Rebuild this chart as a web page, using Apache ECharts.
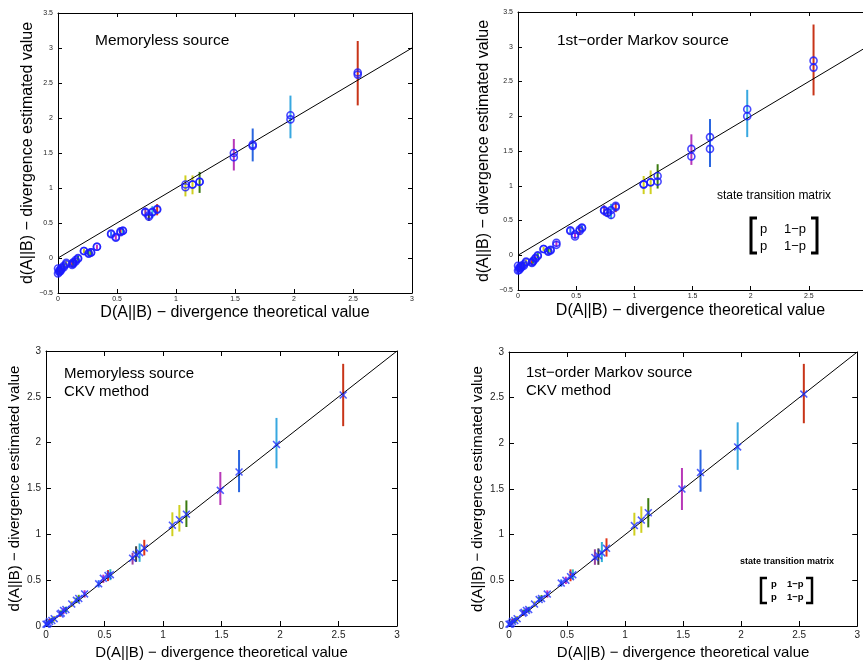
<!DOCTYPE html>
<html>
<head>
<meta charset="utf-8">
<script src="https://cdn.jsdelivr.net/npm/echarts@6/dist/echarts.min.js"></script>
<style>
  html, body { margin: 0; padding: 0; background: #fff; }
  #chart { width: 863px; height: 661px; }
</style>
</head>
<body>
<div id="chart"></div>
<script>
// theoretical divergence values (x axis, shared by all panels)
const theory = [0.00, 0.01, 0.02, 0.03, 0.05, 0.07, 0.12, 0.13, 0.15, 0.17, 0.22, 0.26, 0.28, 0.33, 0.45, 0.49, 0.53, 0.55, 0.74, 0.77, 0.80, 0.84, 1.08, 1.14, 1.20, 1.49, 1.65, 1.97, 2.54];

// memoryless source (top left): two estimates + error bar range
const memEstA = [-0.22, -0.20, -0.19, -0.16, -0.13, -0.09, -0.10, -0.08, -0.05, -0.01, 0.10, 0.06, 0.08, 0.16, 0.35, 0.30, 0.37, 0.39, 0.66, 0.61, 0.65, 0.69, 1.01, 1.05, 1.09, 1.44, 1.60, 1.98, 2.62];
const memEstB = [-0.15, -0.18, -0.17, -0.14, -0.11, -0.07, -0.08, -0.06, -0.03, 0.00, 0.10, 0.07, 0.08, 0.16, 0.34, 0.29, 0.38, 0.39, 0.65, 0.59, 0.66, 0.70, 1.05, 1.05, 1.09, 1.50, 1.62, 2.04, 2.65];
const memLo = [-0.25, -0.23, -0.22, -0.19, -0.16, -0.12, -0.13, -0.11, -0.08, -0.04, 0.07, 0.03, 0.04, 0.12, 0.31, 0.26, 0.32, 0.35, 0.58, 0.53, 0.57, 0.61, 0.88, 0.91, 0.93, 1.25, 1.38, 1.71, 2.18];
const memHi = [-0.12, -0.15, -0.14, -0.11, -0.08, -0.04, -0.05, -0.03, 0.00, 0.03, 0.13, 0.10, 0.12, 0.19, 0.38, 0.33, 0.44, 0.42, 0.72, 0.68, 0.74, 0.77, 1.18, 1.18, 1.23, 1.70, 1.85, 2.32, 3.10];

// 1st-order markov source (top right)
const mkvEstA = [-0.22, -0.21, -0.19, -0.17, -0.15, -0.10, -0.11, -0.09, -0.05, -0.01, 0.09, 0.05, 0.07, 0.15, 0.36, 0.27, 0.35, 0.39, 0.65, 0.62, 0.58, 0.69, 1.02, 1.05, 1.06, 1.42, 1.53, 2.00, 2.70];
const mkvEstB = [-0.15, -0.18, -0.17, -0.15, -0.13, -0.09, -0.10, -0.08, -0.04, 0.00, 0.09, 0.06, 0.08, 0.18, 0.35, 0.30, 0.37, 0.40, 0.64, 0.61, 0.65, 0.71, 1.02, 1.05, 1.14, 1.53, 1.70, 2.10, 2.80];
const mkvLo = [-0.25, -0.24, -0.22, -0.20, -0.18, -0.13, -0.14, -0.12, -0.08, -0.04, 0.06, 0.02, 0.04, 0.12, 0.32, 0.24, 0.29, 0.35, 0.57, 0.55, 0.52, 0.62, 0.88, 0.88, 0.96, 1.30, 1.27, 1.70, 2.30];
const mkvHi = [-0.12, -0.15, -0.14, -0.12, -0.10, -0.06, -0.07, -0.05, -0.01, 0.03, 0.12, 0.09, 0.11, 0.21, 0.39, 0.33, 0.41, 0.43, 0.72, 0.68, 0.74, 0.76, 1.14, 1.22, 1.31, 1.74, 1.96, 2.38, 3.32];

// memoryless source, CKV method (bottom left)
const ckvMemEst = [0.02, 0.02, 0.03, 0.05, 0.06, 0.08, 0.13, 0.14, 0.17, 0.18, 0.24, 0.28, 0.30, 0.35, 0.46, 0.52, 0.55, 0.56, 0.74, 0.78, 0.80, 0.85, 1.10, 1.16, 1.22, 1.48, 1.68, 1.98, 2.52];
const ckvMemLo = [0.00, 0.00, 0.01, 0.02, 0.03, 0.05, 0.10, 0.11, 0.13, 0.15, 0.21, 0.25, 0.26, 0.31, 0.42, 0.47, 0.49, 0.50, 0.67, 0.70, 0.70, 0.77, 0.98, 1.03, 1.08, 1.32, 1.46, 1.72, 2.18];
const ckvMemHi = [0.04, 0.05, 0.06, 0.08, 0.09, 0.11, 0.16, 0.17, 0.20, 0.21, 0.27, 0.31, 0.34, 0.39, 0.50, 0.56, 0.61, 0.62, 0.80, 0.87, 0.90, 0.94, 1.24, 1.32, 1.37, 1.68, 1.92, 2.27, 2.86];

// markov source, CKV method (bottom right)
const ckvMkvEst = [0.02, 0.02, 0.03, 0.05, 0.06, 0.08, 0.14, 0.15, 0.17, 0.18, 0.24, 0.29, 0.30, 0.35, 0.47, 0.50, 0.54, 0.56, 0.75, 0.77, 0.80, 0.85, 1.10, 1.16, 1.24, 1.50, 1.68, 1.96, 2.54];
const ckvMkvLo = [0.00, 0.00, 0.01, 0.02, 0.03, 0.05, 0.11, 0.12, 0.14, 0.15, 0.21, 0.26, 0.27, 0.31, 0.43, 0.46, 0.49, 0.51, 0.67, 0.67, 0.70, 0.76, 0.99, 1.02, 1.08, 1.27, 1.47, 1.71, 2.22];
const ckvMkvHi = [0.04, 0.05, 0.06, 0.08, 0.09, 0.11, 0.17, 0.18, 0.20, 0.21, 0.27, 0.32, 0.34, 0.39, 0.51, 0.54, 0.62, 0.62, 0.84, 0.85, 0.92, 0.96, 1.24, 1.31, 1.40, 1.73, 1.93, 2.23, 2.87];

// reference line d = D
const refLine = [[0, 0], [3, 3]];

// axis ticks (top-right panel is cut off by the page edge just short of 3)
const xTicks = { min: 0, max: 3, interval: 0.5 };
const xTicksCut = { min: 0, max: 2.965, interval: 0.5 };
const yTicksTop = { min: -0.5, max: 3.5, interval: 0.5 };
const yTicksBottom = { min: 0, max: 3, interval: 0.5 };

// --- styling ---
const BAR_COLORS = ['#2a3cff', '#e03020', '#22a022', '#e03020', '#22a022', '#c8c820', '#e03020', '#22a022', '#c030c0', '#22a022',
  '#c8c820', '#22a022', '#5a9a20', '#c030c0', '#2a6aff', '#c030c0', '#e03020', '#30c0c0', '#9a40a0', '#404040',
  '#30b0d8', '#e03418', '#d0d020', '#d0d020', '#3a7a10', '#b838b8', '#2a66e0', '#38a8e0', '#c83418'];
const FONT = 'Liberation Sans, Arial, sans-serif';
const X_NAME = 'D(A||B) \u2212 divergence theoretical value';
const Y_NAME = 'd(A||B) \u2212 divergence estimated value';
const fmt = v => String(v).replace('-', '\u2212');

const grids = [
    { left: 58, top: 13, width: 354, height: 280 },
    { left: 518, top: 12, width: 345, height: 278 },
    { left: 46, top: 351, width: 351, height: 277 },
    { left: 509, top: 352, width: 352, height: 276 }
];

const panels = [
    { x: xTicks, y: yTicksTop, font: 7, tick: 4, nameSize: 16, xGap: 12, yGap: 22, xMargin: 3, yMargin: 5, box: true },
    { x: xTicksCut, y: yTicksTop, font: 7, tick: 4, nameSize: 16, xGap: 13, yGap: 26, xMargin: 3, yMargin: 5, box: false },
    { x: xTicks, y: yTicksBottom, font: 10, tick: 5, nameSize: 15, xGap: 19, yGap: 24, xMargin: 4, yMargin: 5, box: true },
    { x: xTicks, y: yTicksBottom, font: 10, tick: 5, nameSize: 15, xGap: 19, yGap: 24, xMargin: 4, yMargin: 5, box: true }
];

const xAxes = [];
const yAxes = [];
panels.forEach((p, i) => {
    const common = {
        gridIndex: i,
        type: 'value',
        splitLine: { show: false },
        axisLine: { show: true, onZero: false, lineStyle: { color: '#000', width: 1 } },
        axisTick: { show: true, inside: true, length: p.tick, lineStyle: { color: '#000' } }
    };
    xAxes.push(Object.assign({}, common, p.x, {
        position: 'bottom',
        name: X_NAME, nameLocation: 'middle', nameGap: p.xGap,
        nameTextStyle: { fontFamily: FONT, fontSize: p.nameSize, color: '#000' },
        axisLabel: { fontFamily: FONT, fontSize: p.font, color: '#222', margin: p.xMargin, formatter: fmt, showMaxLabel: p.box }
    }));
    yAxes.push(Object.assign({}, common, p.y, {
        position: 'left',
        name: Y_NAME, nameLocation: 'middle', nameGap: p.yGap,
        nameTextStyle: { fontFamily: FONT, fontSize: p.nameSize, color: '#000' },
        axisLabel: { fontFamily: FONT, fontSize: p.font, color: '#222', margin: p.yMargin, formatter: fmt }
    }));
});
// mirrored box axes with inside ticks (matlab style)
panels.forEach((p, i) => {
    const common = {
        gridIndex: i,
        type: 'value',
        splitLine: { show: false },
        axisLabel: { show: false },
        axisLine: { show: true, onZero: false, lineStyle: { color: '#000', width: 1 } },
        axisTick: { show: true, inside: true, length: p.tick, lineStyle: { color: '#000' } }
    };
    xAxes.push(Object.assign({}, common, p.x, { position: 'top' }));
    yAxes.push(Object.assign({}, common, p.y, { position: 'right', show: p.box }));
});

function errorBarSeries(idx, lo, hi) {
    return {
        type: 'custom',
        xAxisIndex: idx,
        yAxisIndex: idx,
        z: 2,
        data: theory.map((x, k) => [x, lo[k], hi[k]]),
        renderItem: function (params, api) {
            const a = api.coord([api.value(0), api.value(1)]);
            const b = api.coord([api.value(0), api.value(2)]);
            return {
                type: 'line',
                shape: { x1: a[0], y1: a[1], x2: b[0], y2: b[1] },
                style: { stroke: BAR_COLORS[params.dataIndex], lineWidth: 2 }
            };
        }
    };
}

function refSeries(idx) {
    return {
        type: 'line',
        xAxisIndex: idx,
        yAxisIndex: idx,
        z: 3,
        data: refLine,
        symbol: 'none',
        lineStyle: { color: '#000', width: 1 },
        silent: true
    };
}

function circleSeries(idx, est) {
    return {
        type: 'scatter',
        xAxisIndex: idx,
        yAxisIndex: idx,
        z: 4,
        symbol: 'circle',
        symbolSize: 7,
        data: theory.map((x, k) => [x, est[k]]),
        itemStyle: { color: 'rgba(0,0,0,0)', borderColor: '#1a1aff', borderWidth: 1.6 }
    };
}

const CROSS = 'path://M0,1.4 L1.4,0 L5,3.6 L8.6,0 L10,1.4 L6.4,5 L10,8.6 L8.6,10 L5,6.4 L1.4,10 L0,8.6 L3.6,5 Z';
function crossSeries(idx, est) {
    return {
        type: 'scatter',
        xAxisIndex: idx,
        yAxisIndex: idx,
        z: 4,
        symbol: CROSS,
        symbolSize: 8,
        data: theory.map((x, k) => [x, est[k]]),
        itemStyle: { color: '#2233ff' }
    };
}

function label(x, y, text, size, weight) {
    return {
        type: 'text', left: x, top: y,
        style: { text: text, fontFamily: FONT, fontSize: size, fontWeight: weight || 'normal', fill: '#000', textVerticalAlign: 'middle' }
    };
}

function bracket(x, top, bottom, dir, w) {
    const x2 = x + dir * 6;
    return {
        type: 'polyline',
        shape: { points: [[x2, top], [x, top], [x, bottom], [x2, bottom]] },
        style: { stroke: '#000', lineWidth: w, fill: null }
    };
}

const chart = echarts.init(document.getElementById('chart'), null, { renderer: 'canvas' });
chart.setOption({
    backgroundColor: '#fff',
    animation: false,
    grid: grids,
    xAxis: xAxes,
    yAxis: yAxes,
    series: [
        errorBarSeries(0, memLo, memHi), refSeries(0), circleSeries(0, memEstA), circleSeries(0, memEstB),
        errorBarSeries(1, mkvLo, mkvHi), refSeries(1), circleSeries(1, mkvEstA), circleSeries(1, mkvEstB),
        errorBarSeries(2, ckvMemLo, ckvMemHi), refSeries(2), crossSeries(2, ckvMemEst),
        errorBarSeries(3, ckvMkvLo, ckvMkvHi), refSeries(3), crossSeries(3, ckvMkvEst)
    ],
    graphic: [
        label(95, 33, 'Memoryless source', 15.5),
        label(557, 33, '1st\u2212order Markov source', 15.5),
        label(717, 190, 'state transition matrix', 12),
        bracket(751, 218, 253, 1, 3), bracket(817, 218, 253, -1, 3),
        label(760, 223, 'p', 13), label(784, 223, '1\u2212p', 13),
        label(760, 240, 'p', 13), label(784, 240, '1\u2212p', 13),
        label(64, 366, 'Memoryless source', 15),
        label(64, 384, 'CKV method', 15),
        label(526, 365, '1st\u2212order Markov source', 15),
        label(526, 383, 'CKV method', 15),
        label(740, 557, 'state transition matrix', 9, 'bold'),
        bracket(761, 578, 603, 1, 2.5), bracket(812, 578, 603, -1, 2.5),
        label(771, 579, 'p', 9.5, 'bold'), label(787, 579, '1\u2212p', 9.5, 'bold'),
        label(771, 592, 'p', 9.5, 'bold'), label(787, 592, '1\u2212p', 9.5, 'bold')
    ]
});
</script>
</body>
</html>
